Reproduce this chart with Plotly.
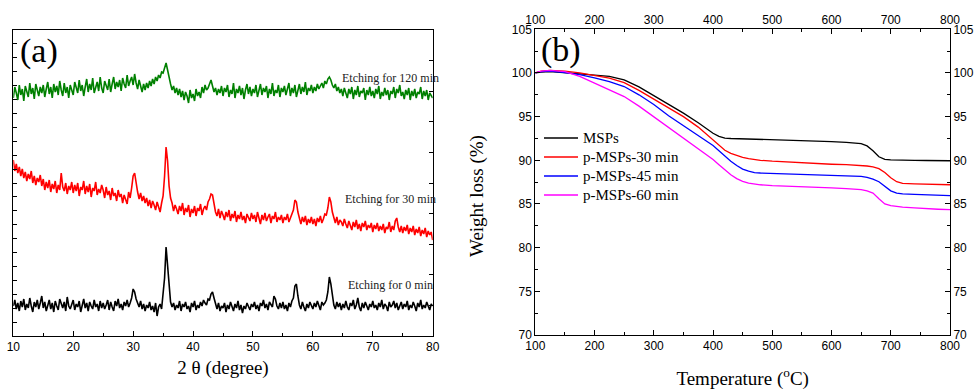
import plotly.graph_objects as go

# ---------------- (a) XRD data (2θ step 0.25°, 10° to 80°) ----------------
xrd_0min = [
    30, 36, 27, 33, 25, 35, 29, 37, 26, 32, 28, 38, 30, 24, 34, 29, 36, 27, 33, 40,
    28, 34, 25, 31, 36, 27, 33, 24, 35, 30, 26, 37, 31, 28, 34, 25, 39, 30, 27, 33,
    36, 26, 32, 29, 35, 24, 31, 37, 28, 33, 25, 34, 30, 27, 36, 29, 32, 25, 35, 28,
    33, 27, 31, 36, 26, 34, 29, 25, 35, 30, 37, 28, 32, 26, 34, 30, 36, 29, 33, 38,
    47, 44, 37, 33, 29, 35, 27, 32, 25, 31, 28, 34, 26, 30, 24, 33, 20, 29, 32, 27,
    40, 58, 89, 70, 45, 34, 29, 33, 26, 31, 28, 35, 25, 32, 29, 34, 27, 30, 24, 33,
    29, 35, 26, 31, 28, 34, 30, 36, 33, 31, 37, 36, 42, 44, 38, 31, 27, 33, 25, 30,
    28, 33, 24, 31, 27, 34, 29, 25, 32, 28, 35, 26, 31, 23, 30, 27, 33, 29, 26, 32,
    29, 34, 27, 31, 25, 33, 30, 36, 28, 32, 26, 34, 31, 29, 40, 37, 30, 27, 33, 28,
    34, 27, 31, 25, 33, 29, 35, 38, 50, 52, 40, 31, 27, 34, 29, 25, 32, 28, 34, 30,
    27, 33, 29, 35, 30, 26, 34, 31, 33, 36, 44, 59, 52, 39, 31, 27, 34, 29, 33, 26,
    32, 28, 35, 29, 26, 33, 30, 36, 27, 31, 38, 29, 25, 33, 28, 34, 30, 26, 32, 29,
    35, 28, 31, 26, 33, 29, 36, 27, 32, 30, 25, 34, 29, 31, 35, 28, 33, 26, 30, 34,
    27, 32, 29, 35, 26, 31, 28, 34, 30, 25, 33, 29, 36, 27, 31, 28, 34, 30, 26, 32,
    30,
]

xrd_30min = [
    176, 165, 172, 163, 169, 160, 167, 158, 164, 155, 162, 157, 165, 153, 160, 151, 158, 154, 161, 150,
    157, 146, 154, 148, 156, 144, 152, 147, 155, 143, 151, 146, 163, 149, 145, 153, 142, 150, 146, 154,
    143, 151, 145, 153, 140, 149, 146, 155, 142, 150, 144, 152, 139, 148, 145, 154, 141, 147, 143, 151,
    146, 138, 149, 141, 145, 136, 148, 140, 143, 135, 146, 139, 142, 133, 141, 137, 132, 144, 138, 148,
    160, 163, 152, 144, 137, 143, 135, 140, 133, 138, 130, 136, 128, 135, 131, 126, 134, 129, 124, 133,
    140, 160, 189, 175, 150, 138, 133, 125, 131, 127, 122, 130, 125, 133, 121, 128, 124, 131, 119, 127,
    123, 130, 120, 128, 125, 132, 121, 127, 130, 126, 134, 137, 142, 141, 131, 124, 120, 127, 118, 125,
    121, 116, 124, 119, 126, 115, 122, 118, 125, 114, 121, 117, 124, 116, 120, 113, 122, 118, 115, 123,
    117, 121, 114, 124, 118, 112, 121, 116, 123, 115, 119, 122, 113, 120, 117, 124, 114, 119, 116, 121,
    113, 119, 116, 122, 114, 118, 121, 126, 136, 134, 124, 117, 112, 119, 114, 120, 111, 117, 113, 119,
    112, 117, 110, 118, 114, 120, 113, 117, 122, 121, 128, 139, 134, 124, 118, 113, 119, 111, 116, 114,
    110, 117, 112, 108, 115, 111, 106, 114, 109, 116, 107, 112, 105, 113, 109, 115, 106, 111, 108, 113,
    104, 111, 107, 113, 105, 110, 106, 112, 103, 109, 107, 114, 104, 110, 106, 115, 118, 109, 104, 110,
    103, 109, 105, 111, 102, 108, 104, 110, 101, 107, 103, 109, 100, 106, 102, 108, 99, 105, 101, 104,
    96,
]

xrd_120min = [
    238, 249, 243, 236, 251, 241, 247, 235, 250, 244, 239, 253, 242, 248, 237, 252, 245, 240, 249, 243,
    251, 239, 247, 254, 242, 249, 238, 252, 244, 250, 241, 255, 246, 240, 253, 243, 249, 238, 251, 245,
    241, 254, 247, 243, 256, 245, 251, 240, 249, 257, 244, 252, 246, 258, 243, 250, 254, 245, 259, 248,
    243, 255, 250, 246, 257, 244, 252, 259, 247, 254, 249, 256, 245, 258, 252, 248, 261, 250, 255, 259,
    251, 262, 253, 247, 256, 249, 244, 252, 246, 253, 248, 255, 250, 257, 252, 259, 255, 261, 258, 264,
    263, 268, 273, 266, 257, 252, 246, 250, 243, 248, 241, 247, 239, 245, 236, 244, 240, 233, 246, 238,
    242, 235, 247, 240, 244, 238, 249, 243, 251, 246, 248, 252, 256, 250, 244, 248, 241, 247, 243, 250,
    240, 248, 244, 251, 239, 246, 242, 253, 238, 247, 243, 250, 241, 248, 237, 246, 252, 242, 249, 240,
    247, 243, 251, 239, 246, 252, 241, 248, 244, 250, 238, 247, 242, 253, 240, 246, 243, 251, 239, 248,
    244, 250, 241, 247, 253, 240, 248, 243, 251, 239, 246, 252, 242, 249, 244, 254, 241, 248, 245, 251,
    243, 249, 245, 252, 247, 250, 253, 248, 255, 252, 257, 259, 256, 251, 248, 252, 245, 249, 243, 247,
    240, 248, 244, 238, 247, 242, 249, 237, 246, 241, 250, 239, 245, 243, 248, 236, 246, 241, 249, 240,
    245, 238, 247, 242, 250, 237, 244, 240, 248, 241, 246, 236, 245, 242, 249, 238, 247, 243, 251, 240,
    244, 237, 246, 241, 248, 236, 245, 240, 247, 238, 244, 242, 249, 237, 245, 240, 246, 236, 243, 241,
    238,
]

xrd_labels = ["Etching for 120 min", "Etching for 30 min", "Etching for 0 min"]
xrd_colors = ["#008000", "#ff0000", "#000000"]

# ---------------- (b) TGA data ----------------
temperature = [100, 110, 125, 150, 175, 200, 225, 250, 275, 300, 325, 350, 375, 400,
               410, 420, 430, 440, 450, 460, 470, 480, 500, 550, 600, 625, 650, 660,
               670, 680, 690, 700, 710, 720, 740, 760, 780, 800]

w_msps = [100.0, 100.1, 100.15, 100.05, 99.9, 99.75, 99.6, 99.2, 98.4, 97.4, 96.4, 95.4,
          94.3, 93.1, 92.75, 92.55, 92.5, 92.48, 92.46, 92.45, 92.44, 92.43, 92.4, 92.3,
          92.15, 92.05, 91.9, 91.65, 91.1, 90.4, 90.1, 90.05, 90.02, 90.0, 90.0, 89.98,
          89.96, 89.95]
w_30 = [100.0, 100.2, 100.3, 100.2, 100.0, 99.7, 99.4, 98.9, 98.0, 97.0, 96.0, 95.0,
        93.8, 92.3, 91.7, 91.15, 90.8, 90.55, 90.35, 90.2, 90.1, 90.0, 89.9, 89.7,
        89.55, 89.5, 89.42, 89.35, 89.25, 89.05, 88.6, 88.0, 87.55, 87.35, 87.3, 87.25,
        87.22, 87.2]
w_45 = [100.0, 100.15, 100.2, 100.05, 99.8, 99.45, 99.0, 98.45, 97.5, 96.4, 95.1, 94.0,
        92.9, 91.7, 91.1, 90.45, 89.9, 89.4, 89.0, 88.75, 88.6, 88.55, 88.5, 88.4,
        88.3, 88.25, 88.15, 88.05, 87.85, 87.55, 87.0, 86.5, 86.25, 86.15, 86.1, 86.05,
        86.0, 85.95]
w_60 = [100.0, 100.2, 100.3, 100.15, 99.6, 98.85, 98.1, 97.3, 96.2, 95.0, 93.7, 92.5,
        91.3, 90.1, 89.5, 88.9, 88.35, 87.9, 87.6, 87.4, 87.3, 87.2, 87.1, 87.0,
        86.85, 86.75, 86.65, 86.5, 86.25, 85.6, 85.0, 84.8, 84.7, 84.65, 84.55, 84.45,
        84.4, 84.35]
tga_names = ["MSPs", "p-MSPs-30 min", "p-MSPs-45 min", "p-MSPs-60 min"]
tga_colors = ["#000000", "#ff0000", "#0000ff", "#ff00ff"]

fig = go.Figure()

for ys, c in zip([xrd_120min, xrd_30min, xrd_0min], xrd_colors):
    tt = [10 + 0.25 * i for i in range(len(ys))]
    fig.add_trace(go.Scatter(x=tt, y=ys, mode="lines", line=dict(color=c, width=1.6),
                             showlegend=False, xaxis="x", yaxis="y", hoverinfo="skip"))
# invisible helper so the right-side tick axis of (a) is drawn
fig.add_trace(go.Scatter(x=[10 + 0.25 * i for i in range(len(xrd_0min))], y=xrd_0min,
                         mode="lines", opacity=0, showlegend=False,
                         xaxis="x", yaxis="y4", hoverinfo="skip"))

for ys, name, c in zip([w_msps, w_30, w_45, w_60], tga_names, tga_colors):
    fig.add_trace(go.Scatter(x=temperature, y=ys, mode="lines", name=name, showlegend=False,
                             line=dict(color=c, width=1.3), xaxis="x2", yaxis="y2"))
fig.add_trace(go.Scatter(x=temperature, y=w_msps, mode="lines", opacity=0, showlegend=False,
                         xaxis="x3", yaxis="y3", hoverinfo="skip"))

W, H = 979, 390
tickfont = dict(family="Liberation Sans, Arial, sans-serif", size=12, color="#000")
serif = "Liberation Serif, Times New Roman, serif"


def ax(**kw):
    base = dict(showline=True, linecolor="#000", linewidth=1, ticks="inside", tickcolor="#000",
                ticklen=5, showgrid=False, zeroline=False, tickfont=tickfont)
    base.update(kw)
    return base


dom_ax = [13.3 / W, 432.7 / W]
dom_ay = [1 - 336 / H, 1 - 30 / H]
dom_bx = [535.3 / W, 950 / W]
dom_by = [1 - 335 / H, 1 - 29.3 / H]

# manual legend for (b)
shapes = []
annotations = []
for i, (name, c) in enumerate(zip(tga_names, tga_colors)):
    yy = 1 - (138 + 19 * i) / H
    shapes.append(dict(type="line", xref="paper", yref="paper", x0=544 / W, x1=578 / W,
                       y0=yy, y1=yy, line=dict(color=c, width=1.3)))
    annotations.append(dict(text=name, x=581 / W, y=yy, xref="paper", yref="paper",
                            xanchor="left", yanchor="middle", showarrow=False,
                            font=dict(family=serif, size=15, color="#000")))

annotations += [
    dict(text="(a)", x=18 / W, y=1 - 51 / H, xref="paper", yref="paper", xanchor="left",
         yanchor="middle", showarrow=False, font=dict(family=serif, size=34, color="#000")),
    dict(text="(b)", x=539 / W, y=1 - 50 / H, xref="paper", yref="paper", xanchor="left",
         yanchor="middle", showarrow=False, font=dict(family=serif, size=34, color="#000")),
    dict(text=xrd_labels[0], x=340 / W, y=1 - 78 / H, xref="paper", yref="paper",
         xanchor="left", yanchor="middle", showarrow=False,
         font=dict(family=serif, size=12, color="#222")),
    dict(text=xrd_labels[1], x=343 / W, y=1 - 199 / H, xref="paper", yref="paper",
         xanchor="left", yanchor="middle", showarrow=False,
         font=dict(family=serif, size=12, color="#222")),
    dict(text=xrd_labels[2], x=346 / W, y=1 - 285 / H, xref="paper", yref="paper",
         xanchor="left", yanchor="middle", showarrow=False,
         font=dict(family=serif, size=12, color="#222")),
    dict(text="Weight loss (%)", x=477 / W, y=1 - 196 / H, xref="paper", yref="paper",
         xanchor="center", yanchor="middle", textangle=-90, showarrow=False,
         font=dict(family=serif, size=19, color="#000")),
]

fig.update_layout(
    width=W, height=H, margin=dict(l=0, r=0, t=0, b=0, autoexpand=False),
    paper_bgcolor="white", plot_bgcolor="white", showlegend=False,
    xaxis=ax(domain=dom_ax, range=[10, 80], dtick=10, mirror=True,
             minor=dict(ticks="inside", dtick=5, ticklen=3, tickcolor="#000"),
             title=dict(text="2 θ (degree)", font=dict(family=serif, size=19, color="#000"),
                        standoff=7),
             anchor="y"),
    yaxis=ax(domain=dom_ay, range=[0, 306], dtick=306 / 22, showticklabels=False,
             mirror=True, anchor="x", ticklen=4),
    yaxis4=dict(showline=False, ticks="inside", tickcolor="#000", ticklen=4, showgrid=False,
                zeroline=False, overlaying="y", side="right", range=[0, 306], dtick=30.6,
                showticklabels=False, anchor="x"),
    xaxis2=ax(domain=dom_bx, range=[100, 800], dtick=100, anchor="y2",
              minor=dict(ticks="inside", dtick=50, ticklen=3, tickcolor="#000"),
              title=dict(text="Temperature (<sup>o</sup>C)",
                         font=dict(family=serif, size=19, color="#000"), standoff=20)),
    xaxis3=ax(range=[100, 800], dtick=100, overlaying="x2", side="top", anchor="y2",
              minor=dict(ticks="inside", dtick=50, ticklen=3, tickcolor="#000")),
    yaxis2=ax(domain=dom_by, range=[70, 105], dtick=5, anchor="x2",
              minor=dict(ticks="inside", dtick=2.5, ticklen=3, tickcolor="#000")),
    yaxis3=ax(range=[70, 105], dtick=5, overlaying="y2", side="right", anchor="x2",
              minor=dict(ticks="inside", dtick=2.5, ticklen=3, tickcolor="#000")),
    shapes=shapes,
    annotations=annotations,
)

fig.write_html("out.html")
